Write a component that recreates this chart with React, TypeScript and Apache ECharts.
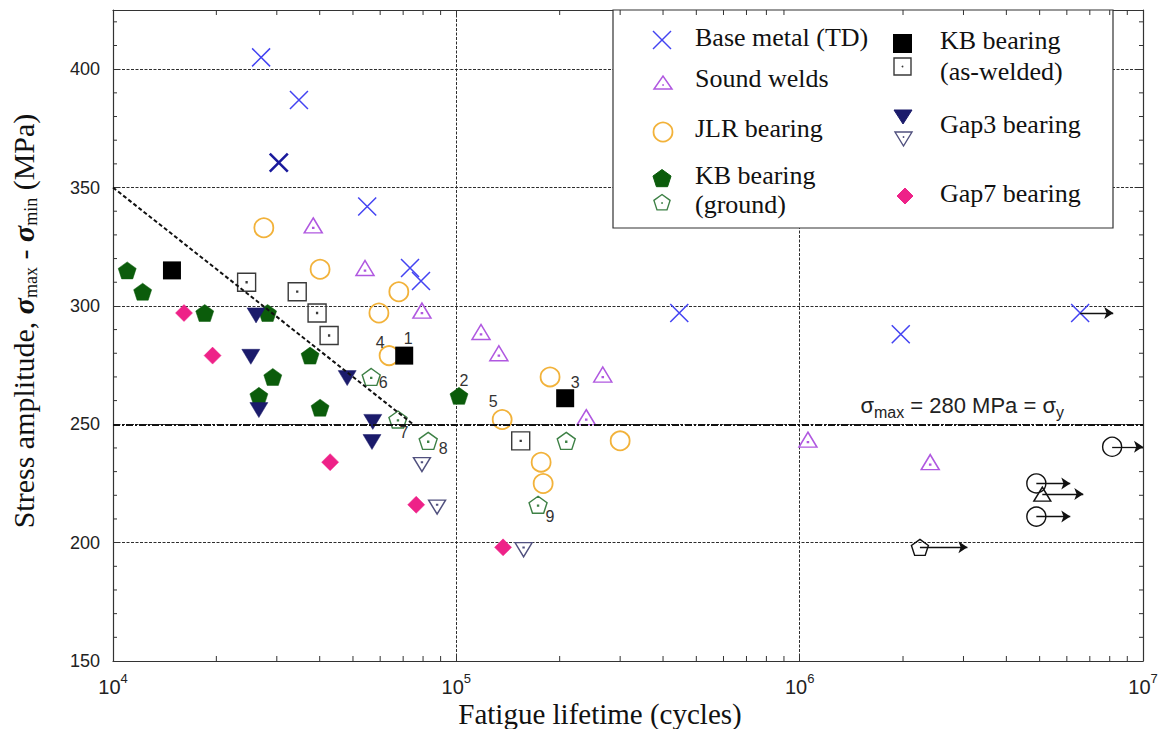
import React, { useEffect, useRef } from "react";
import * as echarts from "echarts";

// ---------------- data ----------------
const baseMetalN = [27000, 34800, 30400, 55000, 73300, 78900, 446000, 1970000, 6560000];
const baseMetalS = [405, 387, 360.5, 342, 316, 310.5, 297, 288, 297];

const soundWeldN = [38300, 54200, 79400, 118000, 133000, 267000, 239000, 1057000, 2400000];
const soundWeldS = [334, 316, 298, 289, 280, 271, 253, 243.5, 234];

const jlrN = [27500, 40100, 68000, 59500, 63700, 187500, 136000, 300000, 176600, 179000];
const jlrS = [333, 315.5, 306, 297, 279, 270, 252, 243, 234, 225];
const jlrTags = ["", "", "", "", "4", "", "5", "", "", ""];

const kbGroundFilledN = [11000, 12200, 18500, 28200, 29200, 37500, 26600, 40100, 101800];
const kbGroundFilledS = [315, 306, 297, 297, 270, 279, 262, 257, 262];
const kbGroundFilledTags = ["", "", "", "", "", "", "", "", "2"];

const kbGroundOpenN = [56500, 67600, 82800, 209000, 173000];
const kbGroundOpenS = [270, 252, 243, 243, 216];
const kbGroundOpenTags = ["6", "7", "8", "", "9"];

const kbWeldedFilledN = [14850, 70500, 207500];
const kbWeldedFilledS = [315, 279, 261];
const kbWeldedFilledTags = ["", "1", "3"];

const kbWeldedOpenN = [24500, 34400, 39300, 42600, 154000];
const kbWeldedOpenS = [310, 306, 297, 287.5, 243];

const gap3FilledN = [26100, 25200, 48100, 26600, 57100, 56800];
const gap3FilledS = [296, 278.5, 269.5, 256, 251, 242.5];

const gap3OpenN = [79400, 87900, 157000];
const gap3OpenS = [233, 215, 197];

const gap7N = [16100, 19500, 42900, 76400, 136800];
const gap7S = [297, 279, 234, 216, 198];

const runoutN = [8130000, 4890000, 5090000, 4890000, 2240000];
const runoutS = [240.5, 225, 220.5, 211, 198];
const runoutShapes = ["circle", "circle", "triangle", "circle", "pentagon"];

const arrowFromN = [6560000, 8130000, 4890000, 5090000, 4890000, 2240000];
const arrowFromS = [297, 240.5, 225, 220.5, 211, 198];
const arrowToN = [8190000, 10000000, 6140000, 6700000, 6140000, 3080000];

const limitLineN = [10000, 74800];
const limitLineS = [350, 250];
const yieldS = 250;

const xMin = 1e4;
const xMax = 1e7;
const yMin = 150;
const yMax = 425;
const yInterval = 50;

const xMinorTicks = [
  20000, 30000, 40000, 50000, 60000, 70000, 80000, 90000,
  200000, 300000, 400000, 500000, 600000, 700000, 800000, 900000,
  2000000, 3000000, 4000000, 5000000, 6000000, 7000000, 8000000, 9000000,
];
const yMinorTicks = [
  160, 170, 180, 190, 210, 220, 230, 240, 260, 270, 280, 290,
  310, 320, 330, 340, 360, 370, 380, 390, 410, 420,
];

const legendLabels = [
  "Base metal (TD)",
  "Sound welds",
  "JLR bearing",
  "KB bearing",
  "(ground)",
  "KB bearing",
  "(as-welded)",
  "Gap3 bearing",
  "Gap7 bearing",
];

// ---------------- styles ----------------
const SERIF = "Liberation Serif";
const SANS = "Liberation Sans";

const C_BLUE = "#4343f2";
const C_BLUE_DARK = "#1a1a9c";
const C_PURPLE = "#b058e0";
const C_ORANGE = "#f2b23a";
const C_GREEN = "#0b5c0b";
const C_GREEN_OPEN = "#3d8045";
const C_NAVY = "#1b1b6b";
const C_NAVY_OPEN = "#50507e";
const C_PINK = "#ee2288";
const C_GRAY = "#3a3a3a";
const CLEAR = "rgba(255,255,255,0)";

const P_CROSS = "path://M0,0L20,20M20,0L0,20";
const P_TRI_UP = "path://M10,0L20,17L0,17Z";
const P_TRI_UP_DOT = P_TRI_UP + "M9.5,10.8L10.5,10.8L10.5,11.8L9.5,11.8Z";
const P_TRI_DN = "path://M0,0L20,0L10,17Z";
const P_TRI_DN_DOT = P_TRI_DN + "M9.5,5.2L10.5,5.2L10.5,6.2L9.5,6.2Z";
const P_PENT = "path://M10,0L19.51,6.91L15.88,18.09L4.12,18.09L0.49,6.91Z";
const P_PENT_DOT = P_PENT + "M9.5,9.5L10.5,9.5L10.5,10.5L9.5,10.5Z";
const P_SQ_DOT = "path://M0,0L20,0L20,20L0,20ZM9.5,9.5L10.5,9.5L10.5,10.5L9.5,10.5Z";

const tagOffsets: Record<string, [number, number]> = {
  "1": [4, -17],
  "2": [5, -15],
  "3": [10, -16],
  "4": [-9, -13],
  "5": [-9, -18],
  "6": [12, 6],
  "7": [6, 13],
  "8": [15, 8],
  "9": [12, 12],
};

const toData = (ns: number[], ss: number[], tags?: string[]) =>
  ns.map((n, i) => {
    const item: any = { value: [n, ss[i]] };
    const t = tags ? tags[i] : "";
    if (t) {
      item.label = {
        show: true,
        formatter: t,
        position: "inside",
        offset: tagOffsets[t],
        color: "#333",
        fontSize: 16,
        fontFamily: SANS,
      };
    }
    return item;
  });

const scatter = (
  name: string,
  data: any[],
  symbol: string,
  size: number | number[],
  color: string,
  border: string,
  bw: number
) => ({
  type: "scatter",
  name,
  data,
  symbol,
  symbolSize: size,
  xAxisIndex: 0,
  yAxisIndex: 0,
  itemStyle: { color, borderColor: border, borderWidth: bw, opacity: 1 },
  emphasis: { disabled: true },
  z: 3,
});

function buildOption() {
  const baseData = toData(baseMetalN, baseMetalS);
  baseData[2].itemStyle = { borderColor: C_BLUE_DARK, borderWidth: 2.6 };

  const runoutData = runoutN.map((n, i) => {
    const shape = runoutShapes[i];
    return {
      value: [n, runoutS[i]],
      symbol: shape === "circle" ? "circle" : shape === "triangle" ? P_TRI_UP : P_PENT,
      symbolSize: shape === "circle" ? 19 : shape === "triangle" ? [17, 14] : [17, 16],
    };
  });

  const markData: any[] = arrowFromN.map((n, i) => [
    {
      coord: [n, arrowFromS[i]],
      symbol: "none",
      lineStyle: { color: "#111", width: 1.3, type: "solid" },
    },
    { coord: [arrowToN[i], arrowFromS[i]], symbol: "arrow", symbolSize: 9 },
  ]);
  markData.push([
    {
      coord: [limitLineN[0], limitLineS[0]],
      symbol: "none",
      lineStyle: { color: "#111", width: 2, type: [4, 2.5] },
    },
    { coord: [limitLineN[1], limitLineS[1]], symbol: "none" },
  ]);
  markData.push([
    {
      coord: [xMin, yieldS],
      symbol: "none",
      lineStyle: { color: "#111", width: 2.2, type: [7, 2, 2, 2] },
      label: {
        show: true,
        position: "insideEndTop",
        distance: 4,
        padding: [0, 75, 0, 0],
        formatter: "{g|σ}{s|max}{g| = 280 MPa = σ}{s|y}",
        rich: {
          g: { fontFamily: SANS, fontSize: 22, color: "#222", verticalAlign: "top" },
          s: {
            fontFamily: SANS,
            fontSize: 16,
            color: "#222",
            verticalAlign: "top",
            padding: [10, 0, 0, 0],
          },
        },
      },
    },
    { coord: [xMax, yieldS], symbol: "none" },
  ]);

  const tickStyle = { stroke: "#333", lineWidth: 1 };

  const legendPent = (cx: number, cy: number, r: number) =>
    [0, 1, 2, 3, 4].map((k) => [
      cx + r * Math.sin((2 * Math.PI * k) / 5),
      cy - r * Math.cos((2 * Math.PI * k) / 5),
    ]);

  const ltext = (text: string, x: number, y: number) => ({
    type: "text",
    x,
    y,
    z: 6,
    silent: true,
    style: {
      text,
      fontSize: 26,
      fontFamily: SERIF,
      fill: "#111",
      textAlign: "left",
      textVerticalAlign: "middle",
      align: "left",
      verticalAlign: "middle",
    },
  });

  const legendElements: any[] = [
    {
      type: "rect",
      z: 1,
      silent: true,
      shape: { x: 613, y: 10, width: 500, height: 218 },
      style: { fill: "#fff", stroke: "#333", lineWidth: 1.2 },
    },
    // base metal X
    { type: "line", z: 6, shape: { x1: 653, y1: 31, x2: 671, y2: 49 }, style: { stroke: C_BLUE, lineWidth: 1.5 } },
    { type: "line", z: 6, shape: { x1: 671, y1: 31, x2: 653, y2: 49 }, style: { stroke: C_BLUE, lineWidth: 1.5 } },
    // sound welds
    {
      type: "polygon",
      z: 6,
      shape: { points: [[654, 89], [672, 89], [663, 76]] },
      style: { fill: CLEAR, stroke: C_PURPLE, lineWidth: 1.5 },
    },
    { type: "circle", z: 6, shape: { cx: 663, cy: 85, r: 0.9 }, style: { fill: C_PURPLE } },
    // JLR
    { type: "circle", z: 6, shape: { cx: 663, cy: 132, r: 9.5 }, style: { fill: CLEAR, stroke: C_ORANGE, lineWidth: 1.8 } },
    // KB ground
    { type: "polygon", z: 6, shape: { points: legendPent(662, 179, 9.5) }, style: { fill: C_GREEN, stroke: C_GREEN } },
    { type: "polygon", z: 6, shape: { points: legendPent(662, 203, 8.5) }, style: { fill: CLEAR, stroke: C_GREEN_OPEN, lineWidth: 1.4 } },
    { type: "circle", z: 6, shape: { cx: 662, cy: 203, r: 0.9 }, style: { fill: C_GREEN_OPEN } },
    // KB welded
    { type: "rect", z: 6, shape: { x: 893, y: 34, width: 19, height: 19 }, style: { fill: "#000" } },
    { type: "rect", z: 6, shape: { x: 894, y: 58, width: 17, height: 17 }, style: { fill: CLEAR, stroke: C_GRAY, lineWidth: 1.4 } },
    { type: "circle", z: 6, shape: { cx: 902.5, cy: 66.5, r: 0.9 }, style: { fill: C_GRAY } },
    // Gap3
    { type: "polygon", z: 6, shape: { points: [[894, 110], [912, 110], [903, 124]] }, style: { fill: C_NAVY, stroke: C_NAVY } },
    {
      type: "polygon",
      z: 6,
      shape: { points: [[895, 132], [912, 132], [903.5, 146]] },
      style: { fill: CLEAR, stroke: C_NAVY_OPEN, lineWidth: 1.4 },
    },
    { type: "circle", z: 6, shape: { cx: 903.5, cy: 137, r: 0.9 }, style: { fill: C_NAVY_OPEN } },
    // Gap7
    {
      type: "polygon",
      z: 6,
      shape: { points: [[905, 188], [913, 196], [905, 204], [897, 196]] },
      style: { fill: C_PINK, stroke: C_PINK },
    },
    ltext(legendLabels[0], 695, 37),
    ltext(legendLabels[1], 695, 78),
    ltext(legendLabels[2], 695, 128),
    ltext(legendLabels[3], 695, 175),
    ltext(legendLabels[4], 695, 204),
    ltext(legendLabels[5], 940, 40),
    ltext(legendLabels[6], 940, 71),
    ltext(legendLabels[7], 940, 124),
    ltext(legendLabels[8], 940, 193),
  ];

  const axisLineStyle = { color: "#333", width: 1.2 };
  const splitStyle = { color: "#2e2e2e", width: 1, type: [3, 1.5] };

  return {
    animation: false,
    backgroundColor: "#fff",
    grid: { left: 113, right: 24, top: 10, bottom: 68, containLabel: false, outerBoundsMode: "none" },
    xAxis: [
      {
        type: "log",
        logBase: 10,
        min: xMin,
        max: xMax,
        position: "bottom",
        name: "Fatigue lifetime (cycles)",
        nameLocation: "middle",
        nameGap: 38,
        nameMoveOverlap: false,
        nameTextStyle: { fontFamily: SERIF, fontSize: 29, color: "#111", padding: [0, 56, 0, 0] },
        axisLine: { show: true, onZero: false, lineStyle: axisLineStyle },
        axisTick: { show: true, inside: true, length: 7, lineStyle: { color: "#333" } },
        axisLabel: {
          margin: 11,
          formatter: (v: number) => `{b|10}{p|${Math.round(Math.log10(v))}}`,
          rich: {
            b: { fontFamily: SANS, fontSize: 20, color: "#222", verticalAlign: "top", padding: [5, 0, 0, 0] },
            p: { fontFamily: SANS, fontSize: 13, color: "#222", verticalAlign: "top" },
          },
        },
        splitLine: { show: true, lineStyle: splitStyle },
        minorTick: { show: false },
      },
      {
        type: "log",
        logBase: 10,
        min: xMin,
        max: xMax,
        position: "top",
        axisLine: { show: true, onZero: false, lineStyle: axisLineStyle },
        axisTick: { show: true, inside: true, length: 7, lineStyle: { color: "#333" } },
        axisLabel: { show: false },
        splitLine: { show: false },
      },
    ],
    yAxis: [
      {
        type: "value",
        min: yMin,
        max: yMax,
        interval: yInterval,
        position: "left",
        name: "{n|Stress amplitude, }{g|σ}{s|max}{n| - }{g|σ}{s|min}{n| (MPa)}",
        nameLocation: "middle",
        nameGap: 73,
        nameRotate: 90,
        nameMoveOverlap: false,
        nameTextStyle: {
          fontFamily: SERIF,
          fontSize: 30,
          color: "#111",
          padding: [0, 0, 0, 29],
          rich: {
            n: { fontFamily: SERIF, fontSize: 30, color: "#111", verticalAlign: "top" },
            g: {
              fontFamily: SERIF,
              fontSize: 30,
              color: "#111",
              fontWeight: "bold",
              fontStyle: "italic",
              verticalAlign: "top",
            },
            s: { fontFamily: SERIF, fontSize: 18, color: "#111", verticalAlign: "top", padding: [14, 0, 0, 0] },
          },
        },
        axisLine: { show: true, onZero: false, lineStyle: axisLineStyle },
        axisTick: { show: true, inside: true, length: 6, lineStyle: { color: "#333" } },
        axisLabel: {
          margin: 13,
          fontFamily: SANS,
          fontSize: 18,
          color: "#222",
          formatter: (v: number) => (v % yInterval === 0 ? String(v) : ""),
        },
        splitLine: { show: true, lineStyle: splitStyle },
      },
      {
        type: "value",
        min: yMin,
        max: yMax,
        interval: yInterval,
        position: "right",
        axisLine: { show: true, onZero: false, lineStyle: axisLineStyle },
        axisTick: { show: true, inside: true, length: 6, lineStyle: { color: "#333" } },
        axisLabel: { show: false },
        splitLine: { show: false },
      },
    ],
    graphic: { elements: legendElements },
    series: [
      scatter("Base metal (TD)", baseData, P_CROSS, 18, CLEAR, C_BLUE, 1.5),
      scatter("Sound welds", toData(soundWeldN, soundWeldS), P_TRI_UP_DOT, [18, 15], CLEAR, C_PURPLE, 1.5),
      scatter("JLR bearing", toData(jlrN, jlrS, jlrTags), "circle", 19, CLEAR, C_ORANGE, 1.8),
      scatter(
        "KB bearing (ground)",
        toData(kbGroundFilledN, kbGroundFilledS, kbGroundFilledTags),
        P_PENT,
        [18, 17],
        C_GREEN,
        C_GREEN,
        0.5
      ),
      scatter(
        "KB bearing (ground), open",
        toData(kbGroundOpenN, kbGroundOpenS, kbGroundOpenTags),
        P_PENT_DOT,
        [18, 17],
        CLEAR,
        C_GREEN_OPEN,
        1.4
      ),
      scatter("KB bearing (as-welded), open", toData(kbWeldedOpenN, kbWeldedOpenS), P_SQ_DOT, 18, CLEAR, C_GRAY, 1.4),
      scatter(
        "KB bearing (as-welded)",
        toData(kbWeldedFilledN, kbWeldedFilledS, kbWeldedFilledTags),
        "rect",
        18,
        "#000",
        "#000",
        0
      ),
      scatter("Gap3 bearing", toData(gap3FilledN, gap3FilledS), P_TRI_DN, [18, 15], C_NAVY, C_NAVY, 0.5),
      scatter("Gap3 bearing, open", toData(gap3OpenN, gap3OpenS), P_TRI_DN_DOT, [17, 14], CLEAR, C_NAVY_OPEN, 1.4),
      scatter("Gap7 bearing", toData(gap7N, gap7S), "diamond", [17, 17], C_PINK, C_PINK, 0.5),
      {
        ...scatter("Run-outs", runoutData, "circle", 19, CLEAR, "#111", 1.4),
        markLine: {
          silent: true,
          symbol: ["none", "none"],
          label: { show: false },
          emphasis: { disabled: true },
          data: markData,
        },
      },
      {
        type: "custom",
        name: "x minor ticks",
        xAxisIndex: 0,
        yAxisIndex: 0,
        silent: true,
        z: 4,
        data: xMinorTicks.map((n) => [n, yMin]),
        renderItem: (_p: any, api: any) => {
          const n = api.value(0);
          const b = api.coord([n, yMin]);
          const t = api.coord([n, yMax]);
          return {
            type: "group",
            children: [
              { type: "line", shape: { x1: b[0], y1: b[1], x2: b[0], y2: b[1] - 5 }, style: tickStyle },
              { type: "line", shape: { x1: t[0], y1: t[1], x2: t[0], y2: t[1] + 5 }, style: tickStyle },
            ],
          };
        },
      },
      {
        type: "custom",
        name: "y minor ticks",
        xAxisIndex: 0,
        yAxisIndex: 0,
        silent: true,
        z: 4,
        data: yMinorTicks.map((s) => [xMin, s]),
        renderItem: (_p: any, api: any) => {
          const s = api.value(1);
          const l = api.coord([xMin, s]);
          const r = api.coord([xMax, s]);
          return {
            type: "group",
            children: [
              { type: "line", shape: { x1: l[0], y1: l[1], x2: l[0] + 4, y2: l[1] }, style: tickStyle },
              { type: "line", shape: { x1: r[0], y1: r[1], x2: r[0] - 4, y2: r[1] }, style: tickStyle },
            ],
          };
        },
      },
    ],
  };
}

export default function App() {
  const ref = useRef<HTMLDivElement>(null);
  useEffect(() => {
    if (!ref.current) return;
    const chart = echarts.init(ref.current, null, { renderer: "svg" });
    chart.setOption(buildOption() as any);
    return () => chart.dispose();
  }, []);
  return (
    <div
      ref={ref}
      style={{ position: "fixed", left: 0, top: 0, width: 1167, height: 729, background: "#fff" }}
    />
  );
}
